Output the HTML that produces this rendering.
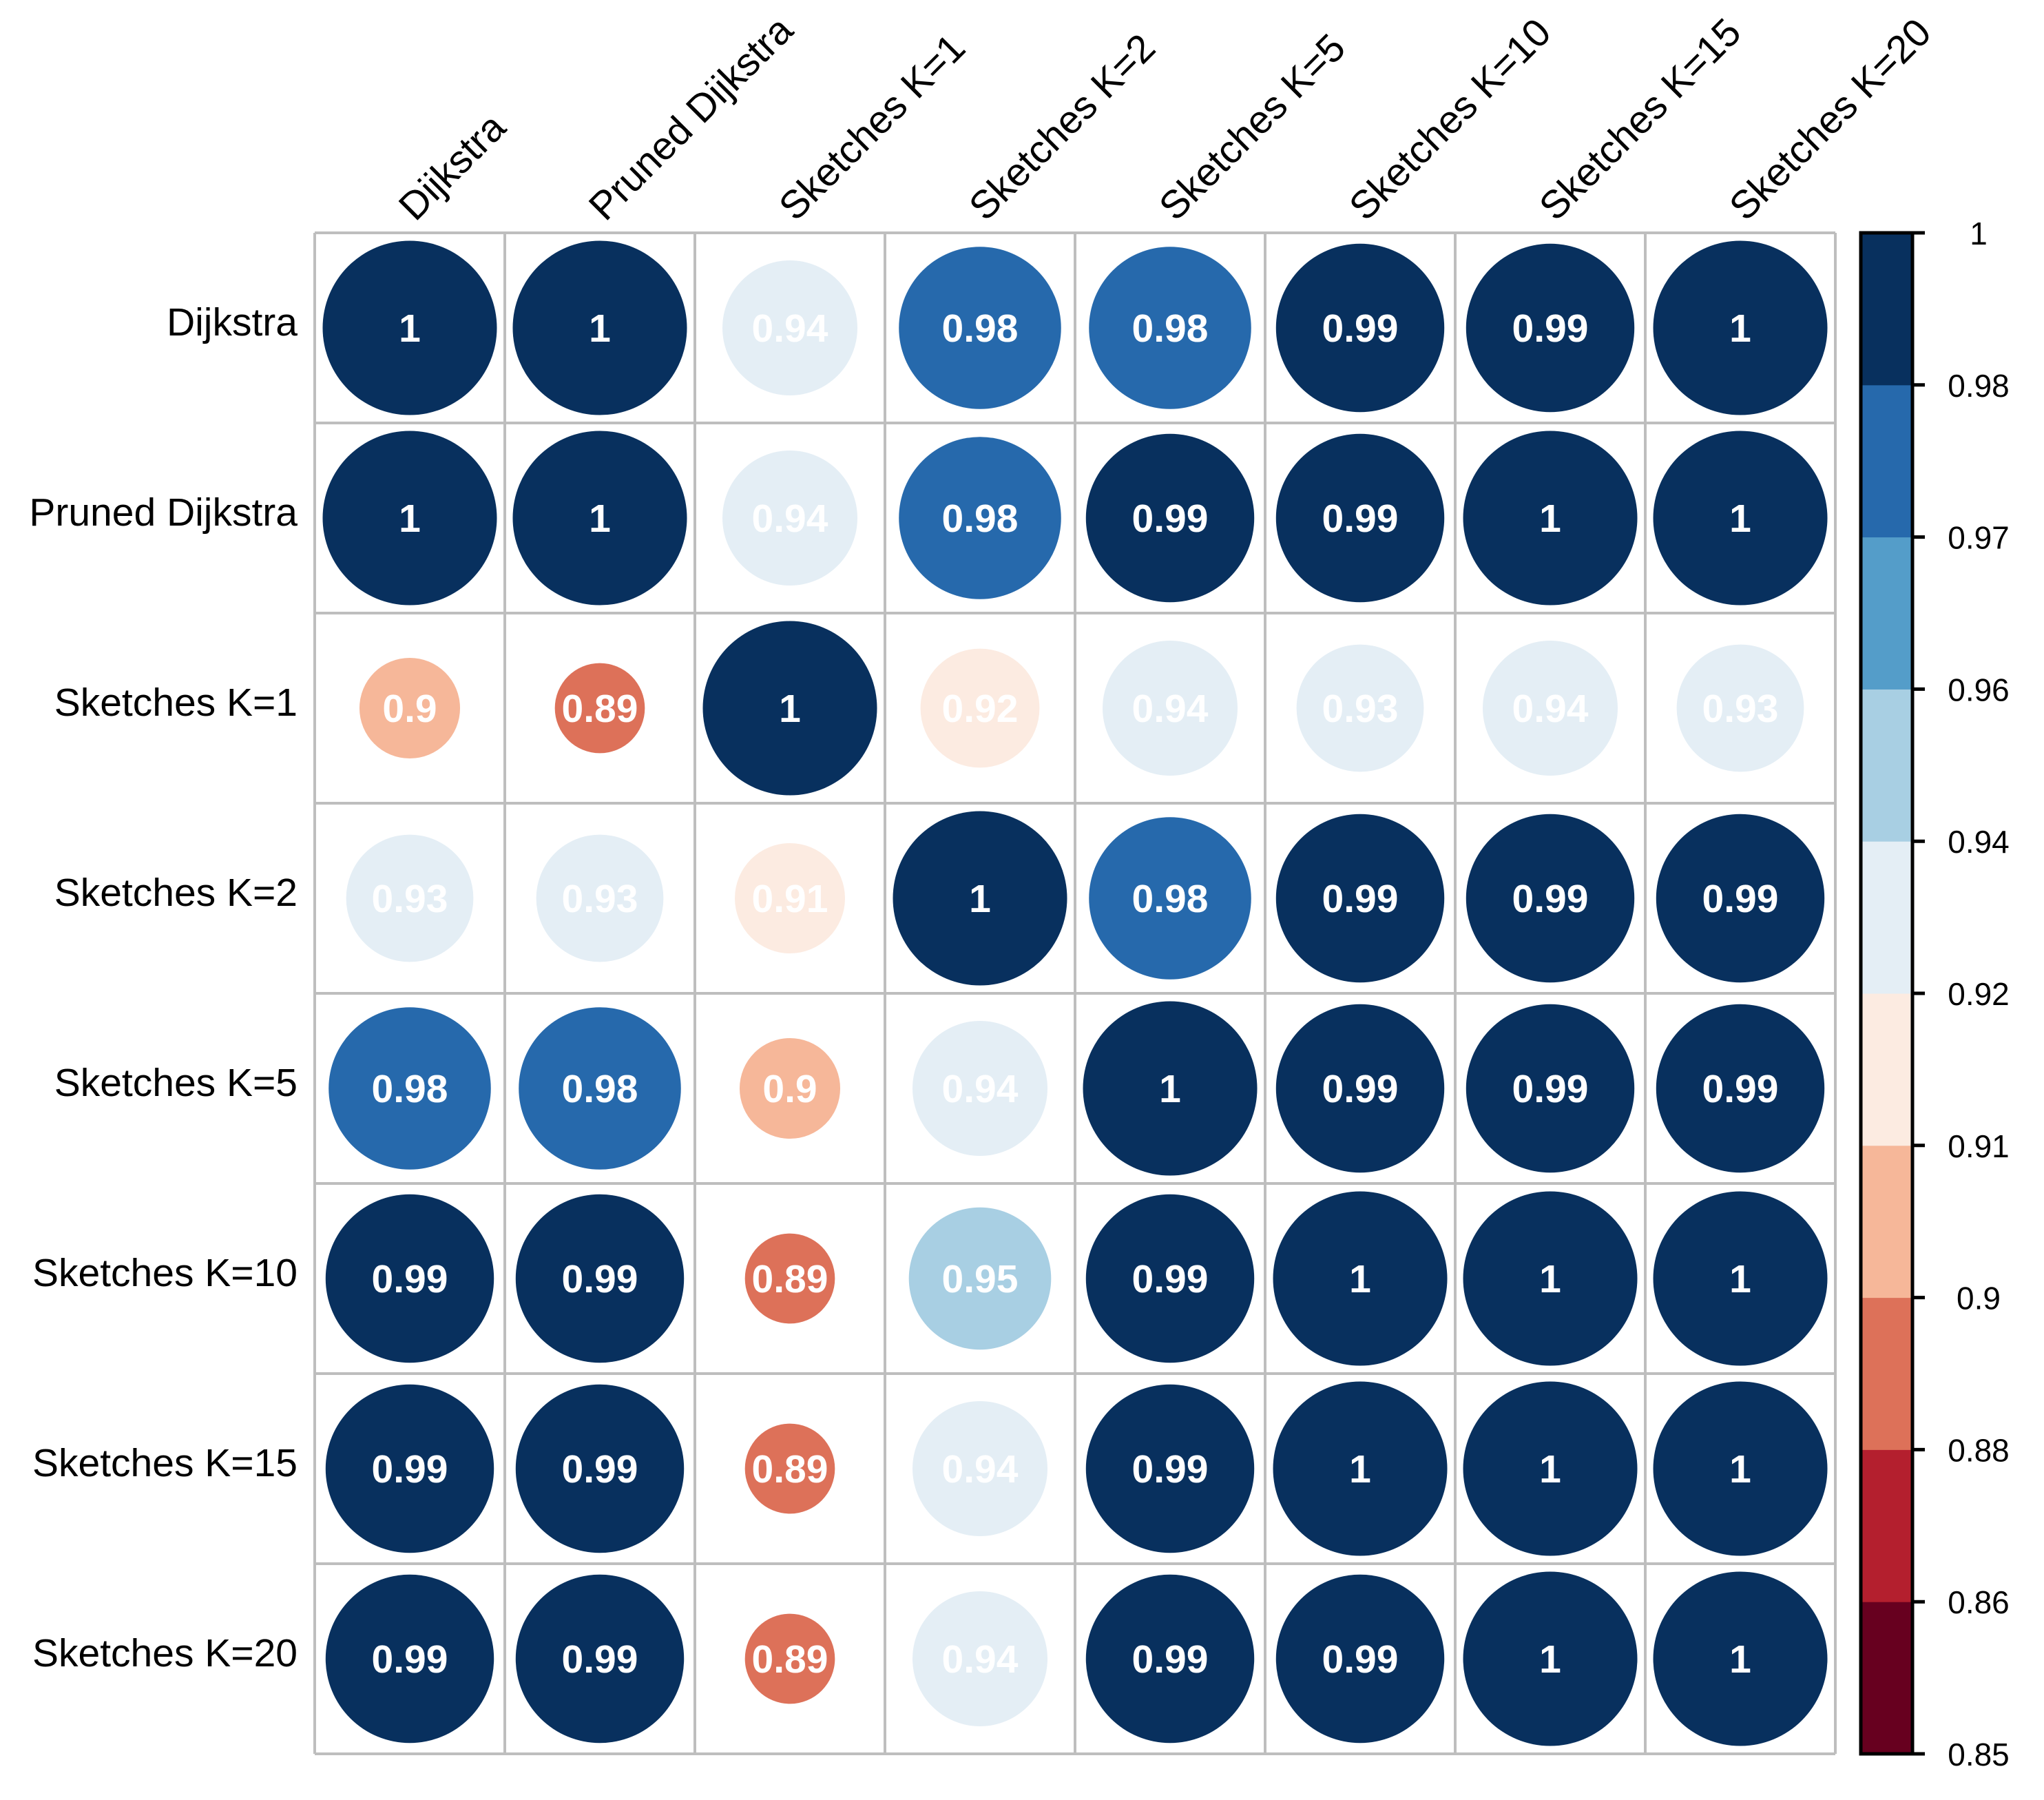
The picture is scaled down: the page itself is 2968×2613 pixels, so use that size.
<!DOCTYPE html>
<html><head><meta charset="utf-8"><style>
html,body{margin:0;padding:0;background:#fff;}
svg{display:block;font-family:"Liberation Sans",Arial,sans-serif;}
</style></head><body>
<svg id="chart" width="2968" height="2613" viewBox="0 0 2968 2613" xmlns="http://www.w3.org/2000/svg"></svg>
<script>
const labels = ["Dijkstra","Pruned Dijkstra","Sketches K=1","Sketches K=2","Sketches K=5","Sketches K=10","Sketches K=15","Sketches K=20"];
const row0 = [1,1,0.94,0.98,0.98,0.99,0.99,1];
const row1 = [1,1,0.94,0.98,0.99,0.99,1,1];
const row2 = [0.9,0.89,1,0.92,0.94,0.93,0.94,0.93];
const row3 = [0.93,0.93,0.91,1,0.98,0.99,0.99,0.99];
const row4 = [0.98,0.98,0.9,0.94,1,0.99,0.99,0.99];
const row5 = [0.99,0.99,0.89,0.95,0.99,1,1,1];
const row6 = [0.99,0.99,0.89,0.94,0.99,1,1,1];
const row7 = [0.99,0.99,0.89,0.94,0.99,0.99,1,1];
const rows = [row0,row1,row2,row3,row4,row5,row6,row7];
const cbTickValues = [1,0.98,0.97,0.96,0.94,0.92,0.91,0.9,0.88,0.86,0.85];
const binColors = ["#67001F","#B41F2E","#DD7159","#F6B799","#FCEBE1","#E4EEF5","#A8CFE3","#549DC9","#2669AC","#08305E"];
const vMin = 0.85, vMax = 1;

const svg = document.getElementById('chart');
const NS = 'http://www.w3.org/2000/svg';
function mk(tag, attrs, parent){const e=document.createElementNS(NS,tag);for(const k in attrs)e.setAttribute(k,attrs[k]);(parent||svg).appendChild(e);return e;}

const gx0=457,gx1=2665,gy0=338,gy1=2546;
const n=labels.length, cw=(gx1-gx0)/n, ch=(gy1-gy0)/n;
const xc=j=>gx0+cw*(j+0.5), yc=i=>gy0+ch*(i+0.5);
const rMax=126.5;
const rScale=v=>rMax*Math.sqrt(Math.max(0,(v-vMin)/(vMax-vMin)));
function colorOf(v){
  let b;
  if(v>=0.985)b=9;else if(v>=0.97)b=8;else if(v>=0.955)b=7;else if(v>0.94)b=6;
  else if(v>0.925)b=5;else if(v>=0.91)b=4;else if(v>=0.895)b=3;else if(v>=0.88)b=2;
  else if(v>=0.865)b=1;else b=0;
  return binColors[b];
}

// grid
const grid=mk('g',{});


for(let k=0;k<=n;k++){
  const vl=mk('line',{x1:gx0+cw*k,y1:gy0,x2:gx0+cw*k,y2:gy1,stroke:'#bebebe','stroke-width':4},grid);
  
  
  const hl=mk('line',{x1:gx0,y1:gy0+ch*k,x2:gx1,y2:gy0+ch*k,stroke:'#bebebe','stroke-width':4},grid);
  
  
}

// cells
rows.forEach((r,i)=>{r.forEach((v,j)=>{
  const c=mk('circle',{cx:xc(j),cy:yc(i),r:rScale(v),fill:colorOf(v)});
  
  
  const t=mk('text',{x:xc(j),y:yc(i)+20,'text-anchor':'middle','font-size':57,'font-weight':'bold',fill:'#fff'});
  t.textContent=String(v);
  
  
});});

// row labels
labels.forEach((l,i)=>{
  const t=mk('text',{x:432,y:yc(i)+11,'text-anchor':'end','font-size':57,fill:'#000'});
  t.textContent=l;
  
  
});
// column labels
labels.forEach((l,j)=>{
  const x=xc(j)+8,y=323;
  const t=mk('text',{x:x,y:y,'text-anchor':'start','font-size':57,fill:'#000',transform:`rotate(-45 ${x} ${y})`});
  t.textContent=l;
  
  
});

// colorbar
const cbx0=2702,cbx1=2777,cby0=338,cby1=2546;
const nb=binColors.length, bh=(cby1-cby0)/nb;
const cb=mk('g',{});


binColors.forEach((col,b)=>{
  const rr=mk('rect',{x:cbx0,y:cby1-bh*(b+1),width:cbx1-cbx0,height:bh+0.5,fill:col},cb);
  
  
});
const border=mk('rect',{x:cbx0,y:cby0,width:cbx1-cbx0,height:cby1-cby0,fill:'none',stroke:'#000','stroke-width':5},cb);


cbTickValues.forEach((v,k)=>{
  const y=cby0+k*bh;
  const tk=mk('line',{x1:cbx1,y1:y,x2:2795,y2:y,stroke:'#000','stroke-width':5},cb);
  
  
  const t=mk('text',{x:2873,y:y+17,'text-anchor':'middle','font-size':46,fill:'#000'},cb);
  t.textContent=String(v);
  
  
});
</script>
</body></html>
